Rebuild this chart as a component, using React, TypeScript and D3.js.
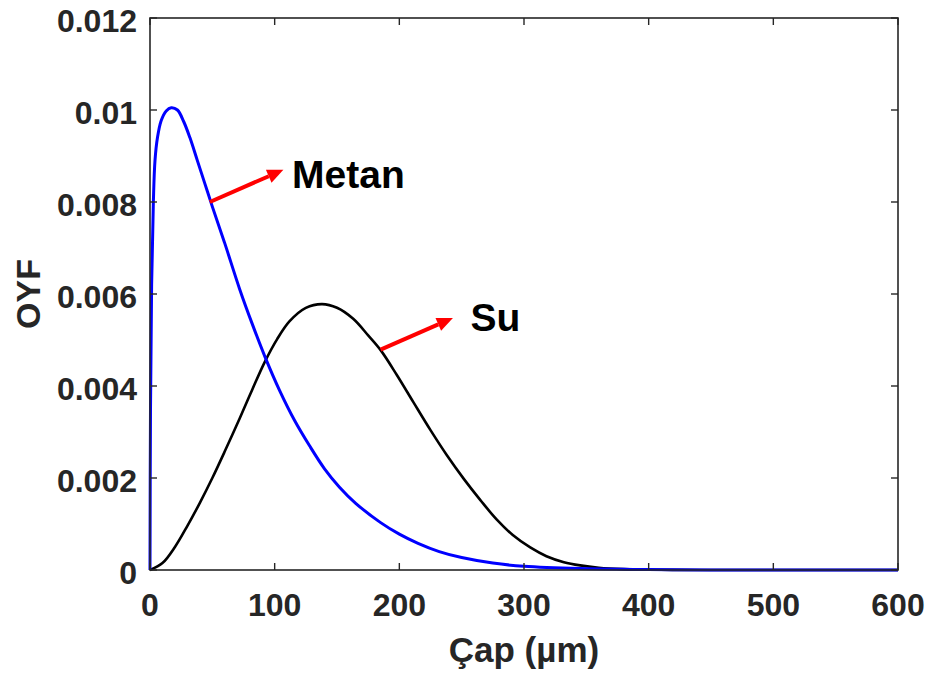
import React from "react";
import * as d3 from "d3";

// Data
const metanX = [0, 0.4, 1.3, 2.7, 4, 6, 9, 13, 17, 22, 27, 32, 38, 44, 50, 60, 72, 82, 92, 104, 116, 128, 140, 152, 165, 185, 200, 215, 232, 250, 275, 300, 345, 400, 450, 600];
const metanY = [0, 0.0035, 0.0062, 0.008, 0.0089, 0.0094, 0.00977, 0.00998, 0.01005, 0.01, 0.00975, 0.0094, 0.0089, 0.0084, 0.0079, 0.0071, 0.0061, 0.00535, 0.00465, 0.0039, 0.00325, 0.0027, 0.0022, 0.0018, 0.00145, 0.00103, 0.00078, 0.00058, 0.0004, 0.00027, 0.00015, 0.00008, 0.00003, 0.00001, 0, 0];

const suX = [0, 10, 20, 30, 40, 50, 60, 72, 82, 92, 102, 112, 125, 138, 150, 163, 175, 185, 198, 211, 225, 238, 252, 265, 278, 291, 305, 318, 332, 345, 360, 380, 410, 440, 600];
const suY = [0, 0.00015, 0.0005, 0.00096, 0.00146, 0.002, 0.00258, 0.0033, 0.00392, 0.00452, 0.00502, 0.00541, 0.0057, 0.00578, 0.0057, 0.00546, 0.0051, 0.00478, 0.00424, 0.00366, 0.00304, 0.0025, 0.00197, 0.00152, 0.0011, 0.00076, 0.00049, 0.0003, 0.00017, 0.0001, 0.00005, 0.00002, 0.000005, 0, 0];

const xTicks = [0, 100, 200, 300, 400, 500, 600];
const xTickLabels = ["0", "100", "200", "300", "400", "500", "600"];
const yTicks = [0, 0.002, 0.004, 0.006, 0.008, 0.01, 0.012];
const yTickLabels = ["0", "0.002", "0.004", "0.006", "0.008", "0.01", "0.012"];

const annLabels = ["Metan", "Su"];
const annFromX = [48, 185];
const annFromY = [0.008, 0.00479];
const annToX = [107, 243];
const annToY = [0.0087, 0.00548];
const annTextX = [114, 257];
const annTextY = [0.0083, 0.0052];

const W = 935;
const H = 680;
const left = 150, right = 898, top = 18, bottom = 570;
const FONT = "Arial, 'Liberation Sans', sans-serif";
const AX = "#262626";

export default function App() {
  const x = d3.scaleLinear().domain([0, 600]).range([left, right]);
  const y = d3.scaleLinear().domain([0, 0.012]).range([bottom, top]);

  const line = d3
    .line<[number, number]>()
    .x((d) => x(d[0]))
    .y((d) => y(d[1]))
    .curve(d3.curveCatmullRom.alpha(0.5));

  const metan = metanX.map((v, i) => [v, metanY[i]] as [number, number]);
  const su = suX.map((v, i) => [v, suY[i]] as [number, number]);

  const arrows = annLabels.map((lab, i) => {
    const x1 = x(annFromX[i]), y1 = y(annFromY[i]);
    const x2 = x(annToX[i]), y2 = y(annToY[i]);
    const ang = Math.atan2(y2 - y1, x2 - x1);
    const hl = 16, hw = 7;
    const bx = x2 - hl * Math.cos(ang), by = y2 - hl * Math.sin(ang);
    const px = -Math.sin(ang), py = Math.cos(ang);
    const head = `${x2},${y2} ${bx + hw * px},${by + hw * py} ${bx - hw * px},${by - hw * py}`;
    return { lab, x1, y1, bx, by, head, tx: x(annTextX[i]), ty: y(annTextY[i]) };
  });

  const tickLen = 7;

  return (
    <svg width={W} height={H} style={{ position: "absolute", left: 0, top: 0, background: "#fff" }}>
      <rect x={0} y={0} width={W} height={H} fill="#fff" />
      <path d={line(su) || ""} fill="none" stroke="#000" strokeWidth={2.6} />
      <path d={line(metan) || ""} fill="none" stroke="#0000ff" strokeWidth={3} />

      {/* box */}
      <rect x={left} y={top} width={right - left} height={bottom - top} fill="none" stroke={AX} strokeWidth={1.6} />
      {xTicks.map((t, i) => (
        <g key={"xt" + i}>
          <line x1={x(t)} x2={x(t)} y1={bottom} y2={bottom - tickLen} stroke={AX} strokeWidth={1.4} />
          <line x1={x(t)} x2={x(t)} y1={top} y2={top + tickLen} stroke={AX} strokeWidth={1.4} />
          <text x={x(t)} y={616} textAnchor="middle" fontFamily={FONT} fontWeight="bold" fontSize={32} fill={AX}>
            {xTickLabels[i]}
          </text>
        </g>
      ))}
      {yTicks.map((t, i) => (
        <g key={"yt" + i}>
          <line x1={left} x2={left + tickLen} y1={y(t)} y2={y(t)} stroke={AX} strokeWidth={1.4} />
          <line x1={right} x2={right - tickLen} y1={y(t)} y2={y(t)} stroke={AX} strokeWidth={1.4} />
          <text x={137} y={y(t) + 3} textAnchor="end" dominantBaseline="central" fontFamily={FONT} fontWeight="bold" fontSize={32} fill={AX}>
            {yTickLabels[i]}
          </text>
        </g>
      ))}

      <text x={(left + right) / 2} y={662} textAnchor="middle" fontFamily={FONT} fontWeight="bold" fontSize={35} fill={AX}>
        Çap (µm)
      </text>
      <text transform={`translate(40,${(top + bottom) / 2}) rotate(-90)`} textAnchor="middle" fontFamily={FONT} fontWeight="bold" fontSize={34} fill={AX}>
        OYF
      </text>

      {arrows.map((a, i) => (
        <g key={"ar" + i}>
          <line x1={a.x1} y1={a.y1} x2={a.bx} y2={a.by} stroke="#ff0000" strokeWidth={4} />
          <polygon points={a.head} fill="#ff0000" />
          <text x={a.tx} y={a.ty} fontFamily={FONT} fontWeight="bold" fontSize={39} fill="#000">
            {a.lab}
          </text>
        </g>
      ))}
    </svg>
  );
}
